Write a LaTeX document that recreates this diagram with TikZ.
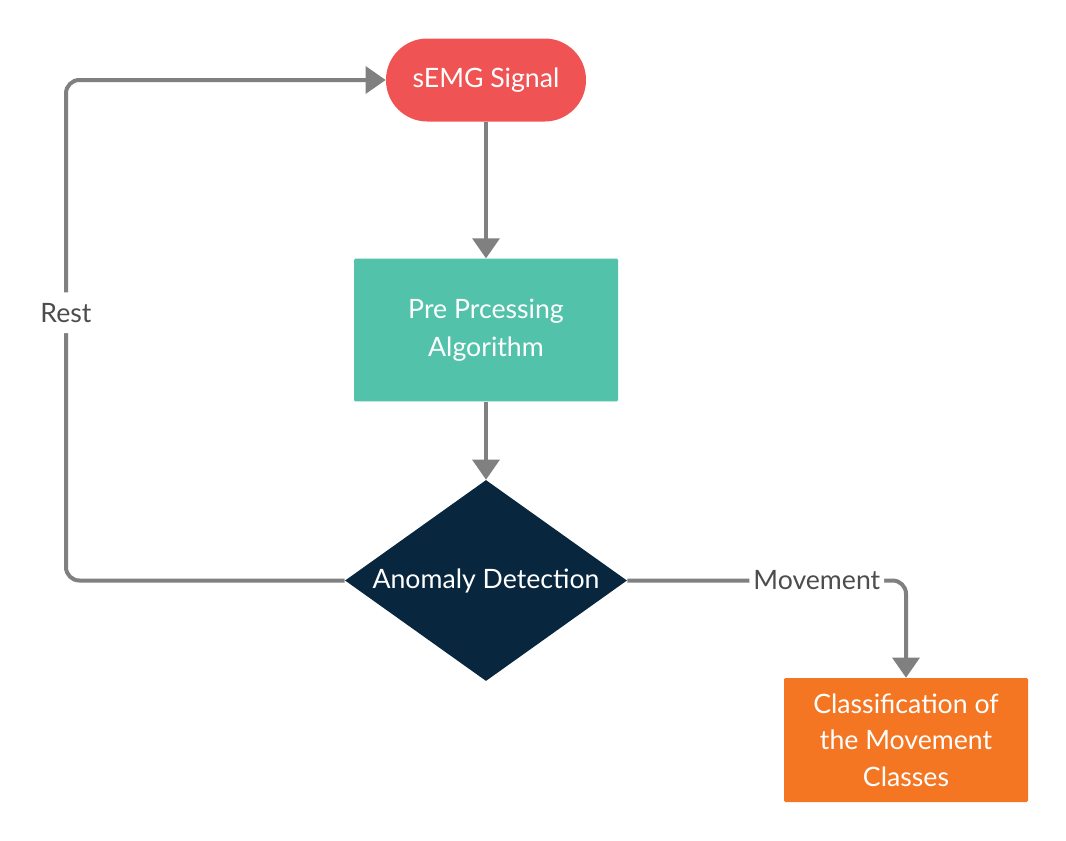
\documentclass[tikz,border=0pt]{standalone}
\usepackage{fontspec}
\setmainfont{Lato}
\usepackage{tikz}
\usetikzlibrary{positioning}
\usetikzlibrary{arrows.meta,shapes.geometric}
\definecolor{sigred}{RGB}{240,83,83}
\definecolor{preteal}{RGB}{82,194,170}
\definecolor{decnavy}{RGB}{8,39,63}
\definecolor{clsorange}{RGB}{244,118,35}
\definecolor{flowgray}{RGB}{128,128,128}
\definecolor{lblgray}{RGB}{77,77,77}

\begin{document}
\begin{tikzpicture}[x=0.75pt,y=-0.75pt,
	every node/.style={font=\fontsize{20}{28.5}\selectfont,text=white,align=center},
	startbox/.style={fill=sigred,rounded corners=31pt,minimum width=150pt,minimum height=62.25pt},
	procbox/.style={fill=preteal,rounded corners=1pt,minimum width=198pt,minimum height=107pt},
	decbox/.style={diamond,fill=decnavy,inner sep=0pt,aspect=1.4,minimum width=211.5pt,minimum height=150.75pt},
	endbox/.style={fill=clsorange,rounded corners=1pt,minimum width=183pt,minimum height=93pt},
	flow/.style={draw=flowgray,line width=3pt,-{Triangle[width=20pt,length=15pt]}},
	lbl/.style={fill=white,text=lblgray,inner sep=3pt}]
	\useasboundingbox (0,0) rectangle (1066,840);
	\node[startbox] (sig) at (486,80) {sEMG Signal};
	\node[procbox] (pre) at (486,330) {Pre Prcessing\\Algorithm};
	\node[decbox] (dec) at (486,580.5) {Anomaly Detection};
	\node[endbox,font=\fontsize{20}{27.4}\selectfont] (cls) at (906,740) {Classification of\\the Movement\\Classes};
	\coordinate (rb) at (66,580.5);
	\coordinate (rt) at (66,80);
	\coordinate (mv) at (906,580.5);
	\draw[flow] (sig) -- (pre);
	\draw[flow] (pre) -- (dec);
	\draw[flow,rounded corners=10pt] (dec.west) -- (rb) -- node[lbl,pos=0.535,inner sep=8pt] {Rest} (rt) -- (sig.west);
	\draw[flow,rounded corners=10pt] (dec.east) -- node[lbl,pos=0.68] {Movement} (mv) -- (cls.north);
\end{tikzpicture}
\end{document}
